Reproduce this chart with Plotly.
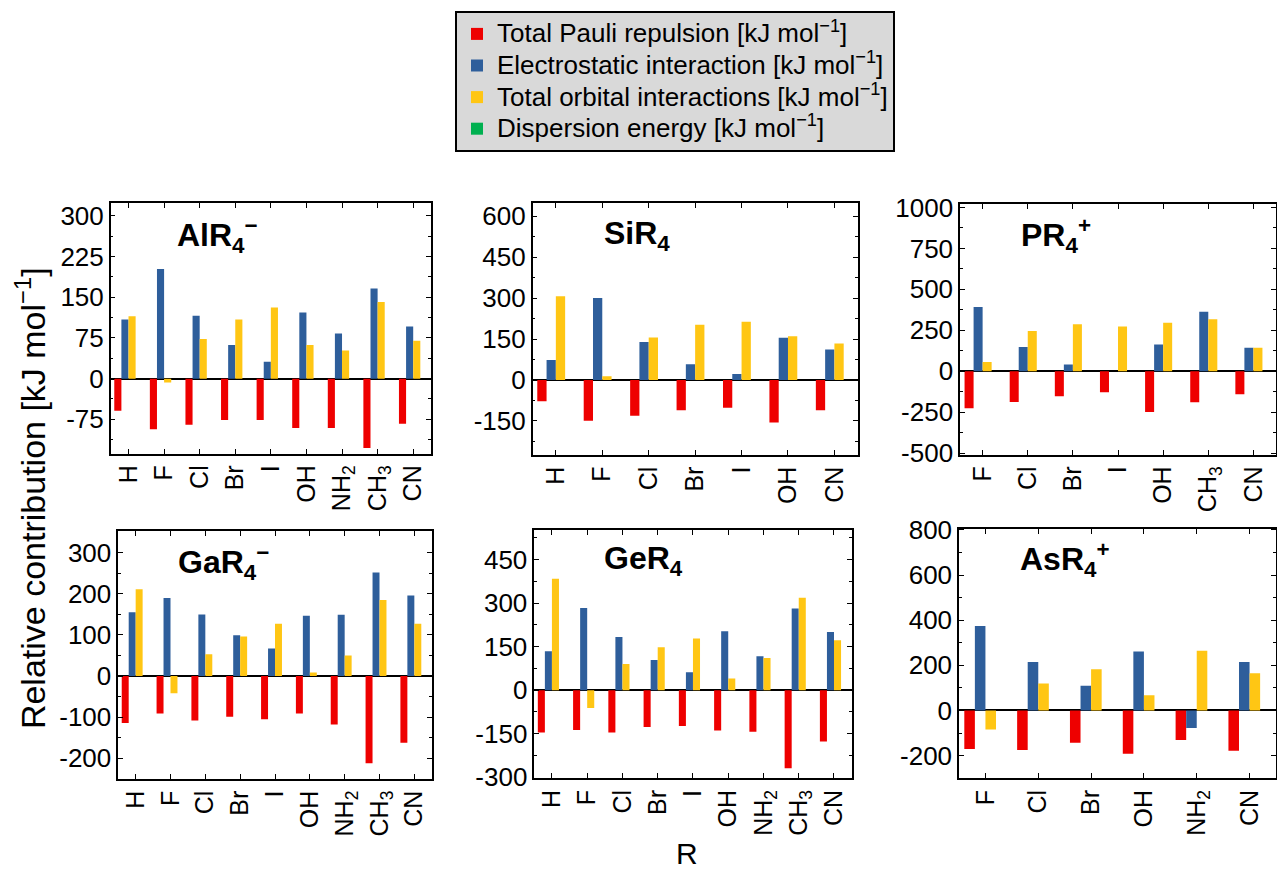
import plotly.graph_objects as go

# ---- AlR4- ----
al_labels = ["H", "F", "Cl", "Br", "I", "OH", "NH<sub>2</sub>", "CH<sub>3</sub>", "CN"]
al_pauli = [-59, -93, -85, -76, -76, -91, -91, -128, -83]
al_elstat = [109, 202, 116, 62, 31, 122, 83, 166, 96]
al_orb = [115, -7, 73, 109, 131, 62, 52, 141, 70]
al_disp = [0, 0, 0, 0, 0, 0, 0, 0, 0]
al_yticks = [-75, 0, 75, 150, 225, 300]

# ---- SiR4 ----
si_labels = ["H", "F", "Cl", "Br", "I", "OH", "CN"]
si_pauli = [-78, -149, -131, -111, -102, -156, -111]
si_elstat = [73, 300, 139, 58, 22, 155, 112]
si_orb = [307, 14, 156, 202, 213, 160, 134]
si_disp = [0, 0, 0, 0, 0, 0, 0]
si_yticks = [-150, 0, 150, 300, 450, 600]

# ---- PR4+ ----
p_labels = ["F", "Cl", "Br", "I", "OH", "CH<sub>3</sub>", "CN"]
p_pauli = [-226, -187, -152, -128, -248, -189, -140]
p_elstat = [392, 148, 41, 0, 163, 364, 144]
p_orb = [57, 246, 287, 274, 297, 317, 144]
p_disp = [0, 0, 0, 0, 0, 0, 0]
p_yticks = [-500, -250, 0, 250, 500, 750, 1000]

# ---- GaR4- ----
ga_labels = ["H", "F", "Cl", "Br", "I", "OH", "NH<sub>2</sub>", "CH<sub>3</sub>", "CN"]
ga_pauli = [-114, -91, -108, -99, -105, -91, -118, -212, -162]
ga_elstat = [155, 190, 150, 99, 67, 147, 149, 252, 196]
ga_orb = [211, -42, 53, 96, 127, 9, 50, 185, 127]
ga_disp = [0, 0, 0, 0, 0, 0, 0, 0, 0]
ga_yticks = [-200, -100, 0, 100, 200, 300]

# ---- GeR4 ----
ge_labels = ["H", "F", "Cl", "Br", "I", "OH", "NH<sub>2</sub>", "CH<sub>3</sub>", "CN"]
ge_pauli = [-146, -137, -146, -127, -123, -139, -143, -269, -177]
ge_elstat = [134, 283, 183, 104, 62, 203, 117, 281, 200]
ge_orb = [384, -61, 90, 148, 178, 40, 111, 318, 172]
ge_disp = [0, 0, 0, 0, 0, 0, 0, 0, 0]
ge_yticks = [-300, -150, 0, 150, 300, 450]

# ---- AsR4+ ----
as_labels = ["F", "Cl", "Br", "OH", "NH<sub>2</sub>", "CN"]
as_pauli = [-171, -175, -143, -192, -131, -178]
as_elstat = [374, 215, 110, 261, -78, 215]
as_orb = [-84, 120, 183, 68, 265, 165]
as_disp = [0, 0, 0, 0, 0, 0]
as_yticks = [-200, 0, 200, 400, 600, 800]

series_names = [
    "Total Pauli repulsion [kJ mol<sup>\u22121</sup>]",
    "Electrostatic interaction [kJ mol<sup>\u22121</sup>]",
    "Total orbital interactions [kJ mol<sup>\u22121</sup>]",
    "Dispersion energy [kJ mol<sup>\u22121</sup>]",
]
series_colors = ["#EE0000", "#2E5E9B", "#FFC614", "#00B050"]

FONT = "Liberation Sans, Arial, sans-serif"

panels = [
    dict(title="AlR<sub>4</sub><sup>\u2212</sup>", labels=al_labels,
         data=[al_pauli, al_elstat, al_orb, al_disp], yticks=al_yticks,
         xdom=[0.0867, 0.3375], ydom=[0.4847, 0.7787],
         yr=[-138, 324], dt=75, tx=0.20, ty=0.87),
    dict(title="SiR<sub>4</sub>", labels=si_labels,
         data=[si_pauli, si_elstat, si_orb, si_disp], yticks=si_yticks,
         xdom=[0.4171, 0.6716], ydom=[0.4832, 0.7787],
         yr=[-274, 649], dt=150, tx=0.212, ty=0.87),
    dict(title="PR<sub>4</sub><sup>+</sup>", labels=p_labels,
         data=[p_pauli, p_elstat, p_orb, p_disp], yticks=p_yticks,
         xdom=[0.7518, 0.9992], ydom=[0.4835, 0.7767],
         yr=[-508, 1018], dt=250, tx=0.188, ty=0.876),
    dict(title="GaR<sub>4</sub><sup>\u2212</sup>", labels=ga_labels,
         data=[ga_pauli, ga_elstat, ga_orb, ga_disp], yticks=ga_yticks,
         xdom=[0.0926, 0.3381], ydom=[0.1033, 0.3935],
         yr=[-250, 352], dt=100, tx=0.184, ty=0.875),
    dict(title="GeR<sub>4</sub>", labels=ge_labels,
         data=[ge_pauli, ge_elstat, ge_orb, ge_disp], yticks=ge_yticks,
         xdom=[0.4184, 0.6669], ydom=[0.1041, 0.3946],
         yr=[-303, 550], dt=150, tx=0.212, ty=0.877),
    dict(title="AsR<sub>4</sub><sup>+</sup>", labels=as_labels,
         data=[as_pauli, as_elstat, as_orb, as_disp], yticks=as_yticks,
         xdom=[0.751, 0.9992], ydom=[0.1041, 0.3965],
         yr=[-300, 805], dt=200, tx=0.187, ty=0.877),
]

fig = go.Figure()
layout_axes = {}
annotations = []

for i, p in enumerate(panels):
    k = "" if i == 0 else str(i + 1)
    xa, ya = "x" + k, "y" + k
    n = len(p["labels"])
    for j, vals in enumerate(p["data"]):
        fig.add_trace(go.Bar(
            x=p["labels"], y=vals,
            name='<span style="font-size:26px">' + series_names[j] + "</span>",
            marker=dict(color=series_colors[j], line=dict(width=0)),
            xaxis=xa, yaxis=ya, showlegend=(i == 0), legendgroup=str(j),
        ))
    layout_axes["xaxis" + k] = dict(
        domain=p["xdom"], anchor=ya, type="category",
        range=[-0.5, n - 0.5],
        showline=True, linecolor="black", linewidth=1.5, mirror="ticks",
        ticks="inside", ticklen=5, tickwidth=1.2, tickcolor="black",
        tickangle=-90, showgrid=False, zeroline=False,
        tickfont=dict(family=FONT, size=25, color="black"),
    )
    layout_axes["yaxis" + k] = dict(
        domain=p["ydom"], anchor=xa, range=p["yr"],
        tickmode="array", tickvals=p["yticks"],
        ticktext=[str(v) for v in p["yticks"]],
        showline=True, linecolor="black", linewidth=1.5, mirror="ticks",
        ticks="inside", ticklen=5, tickwidth=1.2, tickcolor="black",
        minor=dict(dtick=p["dt"] / 2, tick0=0, ticks="inside", ticklen=3,
                   tickwidth=1, tickcolor="black", showgrid=False),
        showgrid=False, zeroline=True, zerolinecolor="black", zerolinewidth=1.5,
        tickfont=dict(family=FONT, size=26, color="black"),
    )
    annotations.append(dict(
        text="<b>" + p["title"] + "</b>", xref=xa + " domain", yref=ya + " domain",
        x=p["tx"], y=p["ty"], xanchor="left", yanchor="middle", showarrow=False,
        font=dict(family=FONT, size=32, color="black"),
    ))

annotations.append(dict(
    text="Relative contribution [kJ mol<sup>\u22121</sup>]",
    xref="paper", yref="paper", x=30 / 1277, y=1 - 500 / 881,
    xanchor="center", yanchor="middle", textangle=-90, showarrow=False,
    font=dict(family=FONT, size=34, color="black"),
))
annotations.append(dict(
    text="R", xref="paper", yref="paper", x=687 / 1277, y=1 - 848 / 881,
    xanchor="center", yanchor="top", showarrow=False,
    font=dict(family=FONT, size=30, color="black"),
))

fig.update_layout(
    width=1277, height=881,
    margin=dict(l=0, r=0, t=0, b=0),
    paper_bgcolor="white", plot_bgcolor="white",
    barmode="group", bargap=0.2, bargroupgap=0,
    font=dict(family=FONT, color="black"),
    legend=dict(
        x=455 / 1277, y=1 + 3 / 881, xanchor="left", yanchor="top",
        bgcolor="#D9D9D9", bordercolor="black", borderwidth=2,
        font=dict(family=FONT, size=22, color="black"),
        tracegroupgap=0,
    ),
    annotations=annotations,
    **layout_axes,
)

fig.write_html("out.html")
